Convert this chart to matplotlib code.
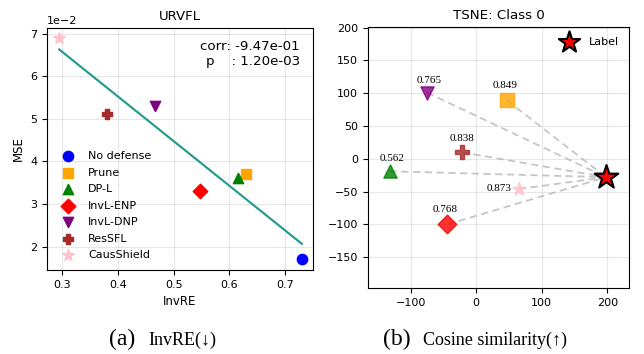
import matplotlib
matplotlib.use("Agg")
import matplotlib.pyplot as plt
import numpy as np

# --- data (a) URVFL: InvRE vs MSE ---
methods = ["No defense", "Prune", "DP-L", "InvL-ENP", "InvL-DNP", "ResSFL", "CausShield"]
colors = ["blue", "orange", "green", "red", "purple", "brown", "pink"]
markers = ["o", "s", "^", "D", "v", "P", "*"]
invre = [0.730, 0.629, 0.616, 0.547, 0.467, 0.381, 0.295]
mse = [0.0170, 0.0370, 0.0360, 0.0330, 0.0530, 0.0510, 0.0690]
corr_txt = "corr: -9.47e-01\np    : 1.20e-03"

# --- data (b) TSNE class 0 ---
label_xy = (198, -28)
tsne_methods = ["Prune", "DP-L", "InvL-ENP", "InvL-DNP", "ResSFL", "CausShield"]
tsne_x = [47, -132, -44, -75, -22, 65]
tsne_y = [89, -19, -100, 101, 10, -46]
cos_sim = ["0.849", "0.562", "0.768", "0.765", "0.838", "0.873"]
tsne_colors = ["orange", "green", "red", "purple", "brown", "pink"]
tsne_markers = ["s", "^", "D", "v", "P", "*"]
# annotation offsets (points)
ann_off = [(-1.5, 11), (1.5, 9), (-1.5, 11), (1.5, 9), (0, 10), (-5, 0)]

fig = plt.figure(figsize=(6.44, 3.54), dpi=100)

# ---------- left panel ----------
ax1 = fig.add_axes([0.0730, 0.2373, 0.4130, 0.6836])
for m, c, mk, x, y in zip(methods, colors, markers, invre, mse):
    size = 75 if mk == "*" else 55
    ax1.scatter(x, y, c=c, marker=mk, s=size, label=m, zorder=3)

k, b = np.polyfit(invre, mse, 1)
xs = np.array([min(invre), max(invre)])
ax1.plot(xs, k * xs + b, color="#2a9d8f", lw=1.6, zorder=2)

ax1.set_xlim(0.273, 0.750)
ax1.set_ylim(0.0145, 0.0713)
ax1.set_xticks([0.3, 0.4, 0.5, 0.6, 0.7])
ax1.ticklabel_format(axis="y", style="sci", scilimits=(0, 0))
ax1.yaxis.get_offset_text().set_fontsize(8)
ax1.tick_params(labelsize=8)
ax1.grid(True, alpha=0.3)
ax1.set_xlabel("InvRE", fontsize=8.5)
ax1.set_ylabel("MSE", fontsize=8.5)
ax1.set_title("URVFL", fontsize=9.6)
ax1.text(0.95, 0.95, corr_txt, transform=ax1.transAxes, ha="right", va="top",
         fontsize=9.6)
ax1.legend(loc="lower left", frameon=False, fontsize=8, handletextpad=0.8,
           labelspacing=0.58)

# ---------- right panel ----------
ax2 = fig.add_axes([0.5714, 0.1864, 0.4053, 0.7373])
for x, y in zip(tsne_x, tsne_y):
    ax2.plot([x, label_xy[0]], [y, label_xy[1]], ls="--", color="#c6c6c6",
             lw=1.3, dashes=(4, 2.5), zorder=1)
for x, y, c, mk, s, off in zip(tsne_x, tsne_y, tsne_colors, tsne_markers,
                               cos_sim, ann_off):
    size = 100 if mk == "*" else 90
    ax2.scatter(x, y, c=c, marker=mk, s=size, alpha=0.8, zorder=3)
    if off[0] < -3:
        ha, va = "right", "center"
    else:
        ha, va = "center", "center"
    ax2.annotate(s, (x, y), xytext=off, textcoords="offset points", ha=ha,
                 va=va, fontsize=8, family=["Liberation Serif", "DejaVu Serif"])
ax2.scatter(*label_xy, c="red", marker="*", s=320, edgecolors="black",
            linewidths=1.5, zorder=4, label="Label")

ax2.set_xlim(-165, 233)
ax2.set_ylim(-197, 201)
ax2.set_xticks([-100, 0, 100, 200])
ax2.set_yticks(np.arange(-150, 201, 50))
ax2.tick_params(labelsize=8)
ax2.grid(True, alpha=0.3)
ax2.set_title("TSNE: Class 0", fontsize=9.6)
ax2.legend(loc="upper right", frameon=False, fontsize=8, markerscale=0.9)

# ---------- captions ----------
serif = ["Liberation Serif", "DejaVu Serif"]
fig.text(109 / 644, 1 - 345 / 354, "(a)", fontsize=17, family=serif,
         va="baseline", ha="left")
fig.text(148 / 644, 1 - 345 / 354, "InvRE(\u2193)", fontsize=13, family=serif,
         va="baseline", ha="left")
fig.text(383 / 644, 1 - 345 / 354, "(b)", fontsize=17, family=serif,
         va="baseline", ha="left")
fig.text(423 / 644, 1 - 345 / 354, "Cosine similarity(\u2191)", fontsize=13,
         family=serif, va="baseline", ha="left")

fig.savefig("out.png", dpi=100)
